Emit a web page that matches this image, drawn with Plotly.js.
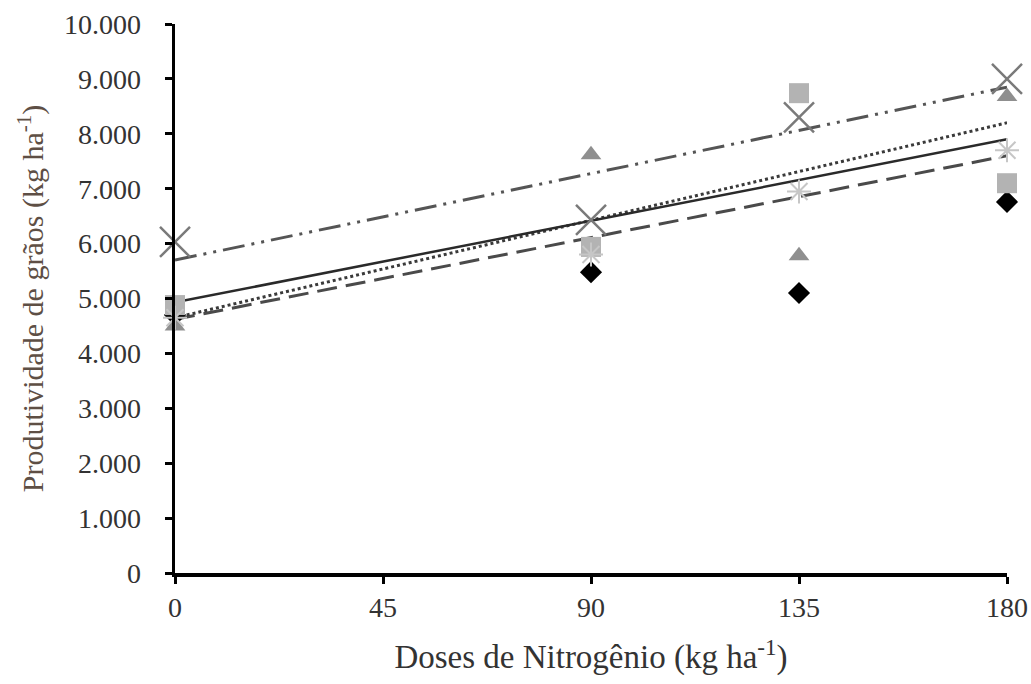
<!DOCTYPE html>
<html>
<head>
<meta charset="utf-8">
<script src="https://cdn.plot.ly/plotly-3.0.1.min.js"></script>
<style>html,body{margin:0;padding:0;background:#fff;}#chart{width:1031px;height:684px;}</style>
</head>
<body>
<div id="chart"></div>
<script>
// Doses de nitrogênio (kg ha-1)
const doses = [0, 90, 135, 180];
// Produtividade (kg ha-1) per series
const serieDiamante = [4700, 5480, 5100, 6760];
const serieQuadrado = [4880, 5940, 8740, 7100];
const serieTriangulo = [4500, 7620, 5780, 8680];
const serieX = [6030, 6430, 8300, 9000];
const serieAsterisco = [4650, 5800, 6950, 7700];
// Trend lines: value at dose 0 and dose 180
const trendDoses = [0, 180];
const trendSolid = [4930, 7900];
const trendDotted = [4650, 8200];
const trendDashed = [4620, 7600];
const trendDashDotDot = [5700, 8850];
const yTicks = [0,1000,2000,3000,4000,5000,6000,7000,8000,9000,10000];
const xTicks = [0,45,90,135,180];

const serif = '"Liberation Serif", "Times New Roman", serif';

const traces = [
  {x: trendDoses, y: trendDashDotDot, mode:'lines', line:{color:'#555555', width:3, dash:'22px,7px,3px,7px,3px,7px'}},
  {x: trendDoses, y: trendDashed, mode:'lines', line:{color:'#4a4a4a', width:3, dash:'20px,9px'}},
  {x: trendDoses, y: trendDotted, mode:'lines', line:{color:'#3a3a3a', width:3, dash:'3px,3px'}},
  {x: trendDoses, y: trendSolid, mode:'lines', line:{color:'#2a2a2a', width:2.5}},
  {x: doses, y: serieDiamante, mode:'markers', cliponaxis:false, marker:{symbol:'diamond', size:17, color:'#000000'}},
  {x: doses, y: serieQuadrado, mode:'markers', cliponaxis:false, marker:{symbol:'square', size:20, color:'#b3b3b3'}},
  {x: doses, y: serieTriangulo, mode:'markers', cliponaxis:false, marker:{symbol:'triangle-up', size:18, color:'#8f8f8f'}},
  {x: doses, y: serieAsterisco, mode:'markers', cliponaxis:false, marker:{symbol:'asterisk-open', size:20, color:'#c6c6c6', line:{color:'#c6c6c6', width:2}}},
  {x: doses, y: serieX, mode:'markers', cliponaxis:false, marker:{symbol:'x-thin-open', size:30, color:'#7a7a7a', line:{color:'#7a7a7a', width:2.5}}}
];

const layout = {
  width:1031, height:684,
  margin:{l:175, r:24, t:24, b:111},
  paper_bgcolor:'#fff', plot_bgcolor:'#fff',
  showlegend:false,
  separators:',.',
  xaxis:{
    range:[0,180], tickvals:xTicks, ticktext:xTicks.map(String),
    showgrid:false, zeroline:false, showline:true, linecolor:'#000', linewidth:3.5,
    ticks:'outside', ticklen:7, tickwidth:3, tickcolor:'#000',
    ticklabelstandoff:0,
    tickfont:{family:serif, size:28, color:'#333333'},
    title:{text:'Doses de Nitrogênio (kg ha<sup>-1</sup>)', font:{family:serif, size:33, color:'#333333'}, standoff:24}
  },
  yaxis:{
    range:[0,10000], tickvals:yTicks, tickformat:',d',
    showgrid:false, zeroline:false, showline:true, linecolor:'#000', linewidth:3.5,
    ticks:'outside', ticklen:7, tickwidth:3, tickcolor:'#000',
    ticklabelstandoff:18,
    tickfont:{family:serif, size:28, color:'#333333'},
    title:{text:'Produtividade de grãos (kg ha<sup>-1</sup>)', font:{family:serif, size:30, color:'#5e4f45'}, standoff:12}
  }
};

Plotly.newPlot('chart', traces, layout, {staticPlot:true, displayModeBar:false});
</script>
</body>
</html>
